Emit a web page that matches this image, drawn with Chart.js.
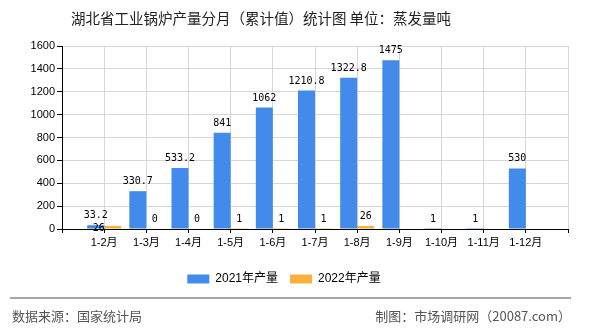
<!DOCTYPE html>
<html>
<head>
<meta charset="utf-8">
<script src="https://cdn.jsdelivr.net/npm/chart.js@4"></script>
<style>
  html, body { margin: 0; padding: 0; background: #fff; }
  #wrap { width: 590px; height: 330px; }
</style>
</head>
<body>
<div id="wrap"><canvas id="c" width="590" height="330"></canvas></div>
<script>
// months, with an empty slot at each end like the original axis
const months = ['', '1-2月', '1-3月', '1-4月', '1-5月', '1-6月', '1-7月', '1-8月', '1-9月', '1-10月', '1-11月', '1-12月', ''];
const output2021 = [null, 33.2, 330.7, 533.2, 841, 1062, 1210.8, 1322.8, 1475, 1, 1, 530, null];
const output2022 = [null, 26, 0, 0, 1, 1, 1, 26, null, null, null, null, null];
const yTicks = [0, 200, 400, 600, 800, 1000, 1200, 1400, 1600];

const blue = '#428bea';
const orange = '#fbb03b';
const fontFam = '"Liberation Sans", "Noto Sans CJK SC", sans-serif';

// title, value labels and footer
const extras = {
  id: 'extras',
  afterDatasetsDraw(chart) {
    const ctx = chart.ctx;
    ctx.save();
    ctx.fillStyle = '#000';
    ctx.font = '10px "DejaVu Sans Mono", monospace';
    ctx.textAlign = 'center';
    ctx.textBaseline = 'alphabetic';
    chart.data.datasets.forEach((ds, d) => {
      const meta = chart.getDatasetMeta(d);
      meta.data.forEach((bar, i) => {
        const v = ds.data[i];
        if (v === null || v === undefined) return;
        let x = bar.x;
        let y = bar.y - 7;
        // the first 2022 label is squeezed next to its neighbour in the original
        if (d === 1 && i === 1) { x -= 14; y += 12; }
        ctx.fillText(String(v), x, y);
      });
    });
    ctx.restore();
  },
  afterDraw(chart) {
    const ctx = chart.ctx;
    ctx.save();
    ctx.fillStyle = '#222';
    ctx.font = '14.5px "Noto Sans CJK SC", sans-serif';
    ctx.textAlign = 'center';
    ctx.textBaseline = 'middle';
    ctx.fillText('湖北省工业锅炉产量分月（累计值）统计图 单位：蒸发量吨', 261, 18);

    ctx.strokeStyle = '#888';
    ctx.lineWidth = 1.5;
    ctx.beginPath();
    ctx.moveTo(10, 298);
    ctx.lineTo(571, 298);
    ctx.stroke();

    ctx.fillStyle = '#555';
    ctx.font = '13px "Noto Sans CJK SC", sans-serif';
    ctx.textAlign = 'left';
    ctx.fillText('数据来源：国家统计局', 12, 316);
    ctx.textAlign = 'right';
    ctx.fillText('制图：市场调研网（20087.com）', 571, 316);
    ctx.restore();
  }
};

new Chart(document.getElementById('c'), {
  type: 'bar',
  data: {
    labels: months,
    datasets: [
      { label: '2021年产量', data: output2021, backgroundColor: blue },
      { label: '2022年产量', data: output2022, backgroundColor: orange }
    ]
  },
  options: {
    responsive: false,
    animation: false,
    devicePixelRatio: 1,
    layout: { padding: { top: 46, right: 22, bottom: 35, left: 0 } },
    datasets: { bar: { categoryPercentage: 0.806, barPercentage: 1 } },
    scales: {
      x: {
        offset: false,
        grid: { color: '#d6d6d6', offset: false, tickLength: 4, tickColor: '#000' },
        border: { color: '#000', width: 1 },
        ticks: { color: '#000', font: { size: 11, family: fontFam }, padding: 3, maxRotation: 0, autoSkip: false },
        afterFit(s) { s.height = 32; }
      },
      y: {
        min: 0,
        max: 1600,
        afterBuildTicks(s) { s.ticks = yTicks.map(v => ({ value: v })); },
        grid: { color: '#d6d6d6', tickLength: 5, tickColor: '#000' },
        border: { color: '#000', width: 1 },
        ticks: { color: '#000', font: { size: 11, family: fontFam }, padding: 2, callback: v => String(v) },
        afterFit(s) { s.width = 62; }
      }
    },
    plugins: {
      title: { display: false },
      tooltip: { enabled: false },
      legend: {
        position: 'bottom',
        labels: {
          boxWidth: 22,
          boxHeight: 9,
          padding: 12,
          color: '#000',
          font: { size: 12, family: fontFam }
        }
      }
    }
  },
  plugins: [extras]
});
</script>
</body>
</html>
